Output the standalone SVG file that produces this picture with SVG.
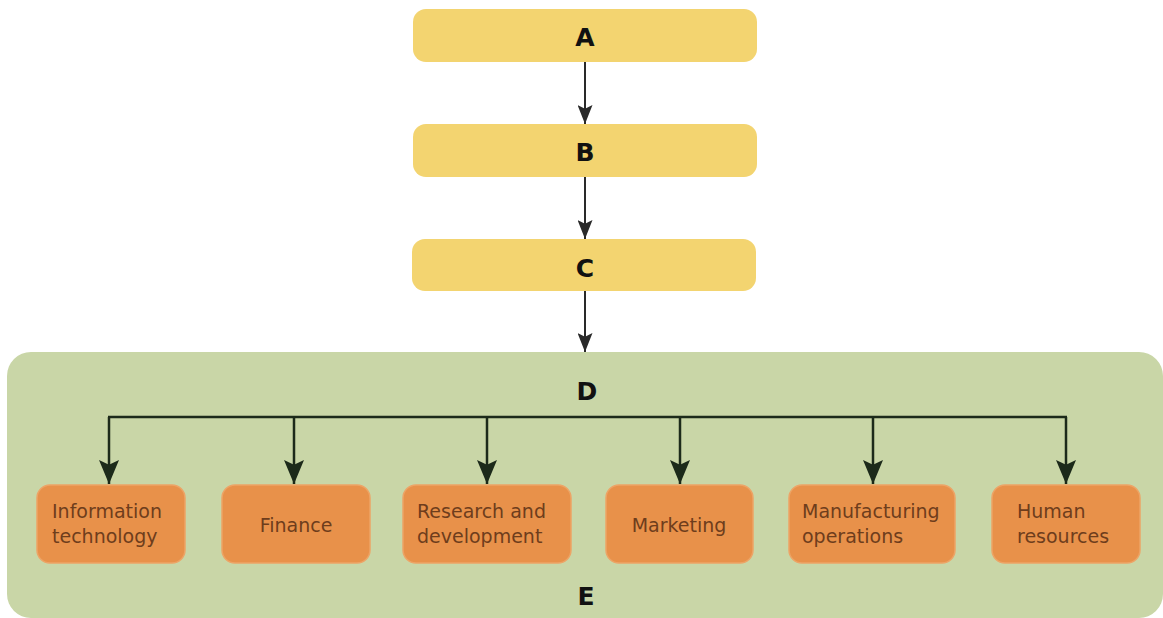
<svg xmlns="http://www.w3.org/2000/svg" width="1163" height="618" viewBox="0 0 1163 618">
<style>
.top{fill:#f3d470;}
.lbl{font-family:"DejaVu Sans","Liberation Sans",sans-serif;font-weight:bold;font-size:25px;fill:#111;text-anchor:middle;}
.org{fill:#e8914a;stroke:#eda466;stroke-width:1.5;}
.ot{font-family:"DejaVu Sans","Liberation Sans",sans-serif;font-size:19px;fill:#6e3d1c;}
.ln{stroke:#2a2a2a;stroke-width:2;fill:none;}
.tr{stroke:#1c2a1a;stroke-width:2.5;fill:none;}
</style>
<defs>
<marker id="ah" viewBox="0 0 10 10" refX="10" refY="5" markerUnits="userSpaceOnUse" markerWidth="19" markerHeight="15" preserveAspectRatio="none" orient="auto">
<path d="M0,0 L10,5 L0,10 L2,5 z" fill="#2a2a2a"/>
</marker>
<marker id="ah2" viewBox="0 0 10 10" refX="10" refY="5" markerUnits="userSpaceOnUse" markerWidth="24" markerHeight="20" preserveAspectRatio="none" orient="auto">
<path d="M0,0 L10,5 L0,10 L2,5 z" fill="#1c2a1a"/>
</marker>
</defs>
<rect width="1163" height="618" fill="#ffffff"/>
<g id="E">
<rect x="7" y="352" width="1156" height="266" rx="24" fill="#c9d6a7"/>
<text class="lbl" x="586" y="605">E</text>
</g>
<g id="A">
<rect class="top" x="413" y="9" width="344" height="53" rx="13"/>
<text class="lbl" x="585" y="46">A</text>
</g>
<g id="B">
<rect class="top" x="413" y="124" width="344" height="53" rx="13"/>
<text class="lbl" x="585" y="161">B</text>
</g>
<g id="C">
<rect class="top" x="412" y="239" width="344" height="52" rx="13"/>
<text class="lbl" x="585" y="277">C</text>
</g>
<g id="D">
<text class="lbl" x="587" y="400">D</text>
</g>
<g id="connectors">
<line class="ln" x1="585" y1="62" x2="585" y2="124" marker-end="url(#ah)"/>
<line class="ln" x1="585" y1="177" x2="585" y2="239" marker-end="url(#ah)"/>
<line class="ln" x1="585" y1="291" x2="585" y2="352" marker-end="url(#ah)"/>
<line class="tr" x1="108" y1="417" x2="1067" y2="417"/>
<line class="tr" x1="109" y1="417" x2="109" y2="484" marker-end="url(#ah2)"/>
<line class="tr" x1="294" y1="417" x2="294" y2="484" marker-end="url(#ah2)"/>
<line class="tr" x1="487" y1="417" x2="487" y2="484" marker-end="url(#ah2)"/>
<line class="tr" x1="680" y1="417" x2="680" y2="484" marker-end="url(#ah2)"/>
<line class="tr" x1="873" y1="417" x2="873" y2="484" marker-end="url(#ah2)"/>
<line class="tr" x1="1066" y1="417" x2="1066" y2="484" marker-end="url(#ah2)"/>
</g>
<g id="it">
<rect class="org" x="37" y="485" width="148" height="78" rx="13"/>
<text class="ot" x="52" y="518">Information</text>
<text class="ot" x="52" y="543">technology</text>
</g>
<g id="finance">
<rect class="org" x="222" y="485" width="148" height="78" rx="13"/>
<text class="ot" x="296" y="532" text-anchor="middle">Finance</text>
</g>
<g id="rd">
<rect class="org" x="403" y="485" width="168" height="78" rx="13"/>
<text class="ot" x="417" y="518">Research and</text>
<text class="ot" x="417" y="543">development</text>
</g>
<g id="marketing">
<rect class="org" x="606" y="485" width="147" height="78" rx="13"/>
<text class="ot" x="679" y="532" text-anchor="middle">Marketing</text>
</g>
<g id="manufacturing">
<rect class="org" x="789" y="485" width="166" height="78" rx="13"/>
<text class="ot" x="802" y="518">Manufacturing</text>
<text class="ot" x="802" y="543">operations</text>
</g>
<g id="hr">
<rect class="org" x="992" y="485" width="148" height="78" rx="13"/>
<text class="ot" x="1017" y="518">Human</text>
<text class="ot" x="1017" y="543">resources</text>
</g>
</svg>
